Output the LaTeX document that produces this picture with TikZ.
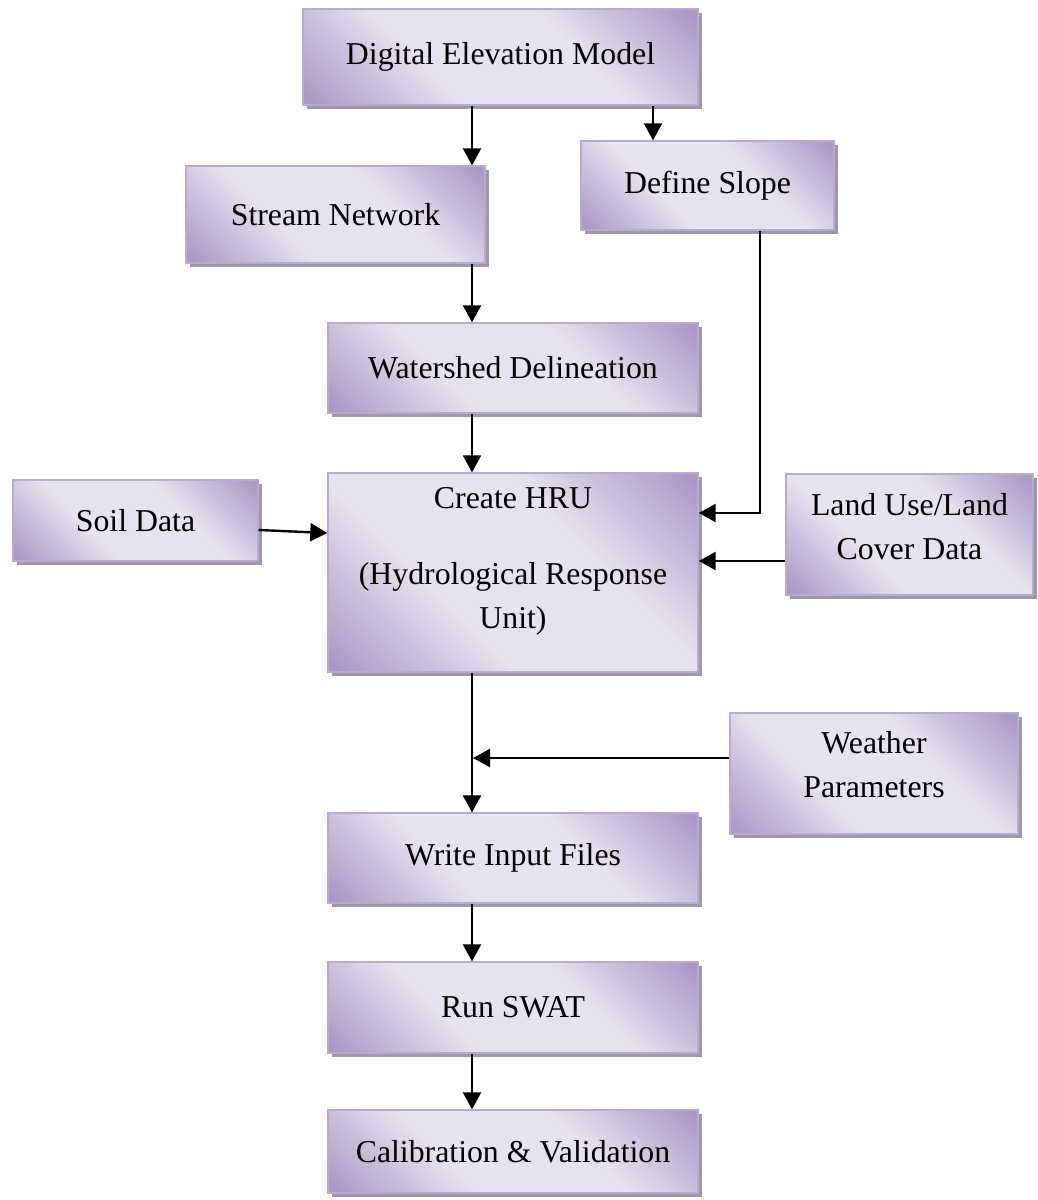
\documentclass[tikz,border=0pt]{standalone}
\usepackage{fontspec}
\setmainfont{Liberation Serif}
\usetikzlibrary{arrows.meta,shadows}
\definecolor{pdark}{RGB}{170,153,198}
\definecolor{plight}{RGB}{231,226,239}
\definecolor{pborder}{RGB}{184,170,208}
\definecolor{shadowc}{RGB}{158,152,168}
\pgfdeclarehorizontalshading{purpleshade}{100bp}{color(0bp)=(pdark); color(16bp)=(pdark); color(38bp)=(plight); color(62bp)=(plight); color(84bp)=(pdark); color(100bp)=(pdark)}
\tikzset{
  box/.style={draw=pborder, line width=0.7pt, shading=purpleshade, shading angle=45,
    drop shadow={shadow xshift=2pt, shadow yshift=-2pt, fill=shadowc, opacity=1},
    inner sep=0pt, align=center, font=\fontsize{15.9}{22}\selectfont},
  txt/.style={align=center, inner sep=0pt, font=\fontsize{15.9}{22}\selectfont},
  arr/.style={-{Triangle[length=8.5pt,width=9pt]}, line width=1.2pt, black}
}
\begin{document}
\begin{tikzpicture}[x=0.5pt,y=-0.5pt]
\useasboundingbox (0,0) rectangle (1038,1200);
\node[box, minimum width=197.5pt, minimum height=48pt] (dem) at (500.5,57) {Digital Elevation Model};
\node[box, minimum width=149.5pt, minimum height=48.5pt] (stream) at (335.5,214.5) {Stream Network};
\node[box, minimum width=126.5pt, minimum height=44.5pt] (slope) at (707.5,185.5) {Define Slope};
\node[box, minimum width=185pt, minimum height=45pt] (water) at (513,368) {Watershed Delineation};
\node[box, minimum width=122.5pt, minimum height=40.5pt] (soil) at (135.5,520.5) {Soil Data};
\node[box, minimum width=185pt, minimum height=99.5pt] (hru) at (513,572.5) {};
\node[txt] (hrutext) at (513,561) {Create HRU\\[16pt](Hydrological Response\\Unit)};
\node[box, minimum width=123.5pt, minimum height=60.5pt] (land) at (909.5,534.5) {};
\node[txt] (landtext) at (909.5,527) {Land Use/Land\\Cover Data};
\node[box, minimum width=144pt, minimum height=60.5pt] (weather) at (874,773.5) {};
\node[txt] (weathertext) at (874,765) {Weather\\Parameters};
\node[box, minimum width=185pt, minimum height=45pt] (write) at (513,858) {Write Input Files};
\node[box, minimum width=185pt, minimum height=45.5pt] (run) at (513,1007.5) {Run SWAT};
\node[box, minimum width=185pt, minimum height=41.5pt] (calib) at (513,1151.5) {Calibration \& Validation};

\coordinate (colx) at (472,0);
\coordinate (slx) at (653,0);
\coordinate (sldown) at (760,0);
\coordinate (ysl) at (0,513);
\coordinate (yland) at (0,561);
\coordinate (ysoil1) at (0,530);
\coordinate (ysoil2) at (0,533);
\coordinate (yw) at (0,758);
\coordinate (wend) at (473,758);

\draw[arr] (dem.south -| colx) -- (stream.north -| colx);
\draw[arr] (dem.south -| slx) -- (slope.north -| slx);
\draw[arr] (stream.south -| colx) -- (water.north -| colx);
\draw[arr] (water.south -| colx) -- (hru.north -| colx);
\draw[arr] (slope.south -| sldown) |- (hru.east |- ysl);
\draw[arr] (land.west |- yland) -- (hru.east |- yland);
\draw[arr] (soil.east |- ysoil1) -- (hru.west |- ysoil2);
\draw[arr] (hru.south -| colx) -- (write.north -| colx);
\draw[arr] (weather.west |- yw) -- (wend);
\draw[arr] (write.south -| colx) -- (run.north -| colx);
\draw[arr] (run.south -| colx) -- (calib.north -| colx);
\end{tikzpicture}
\end{document}
